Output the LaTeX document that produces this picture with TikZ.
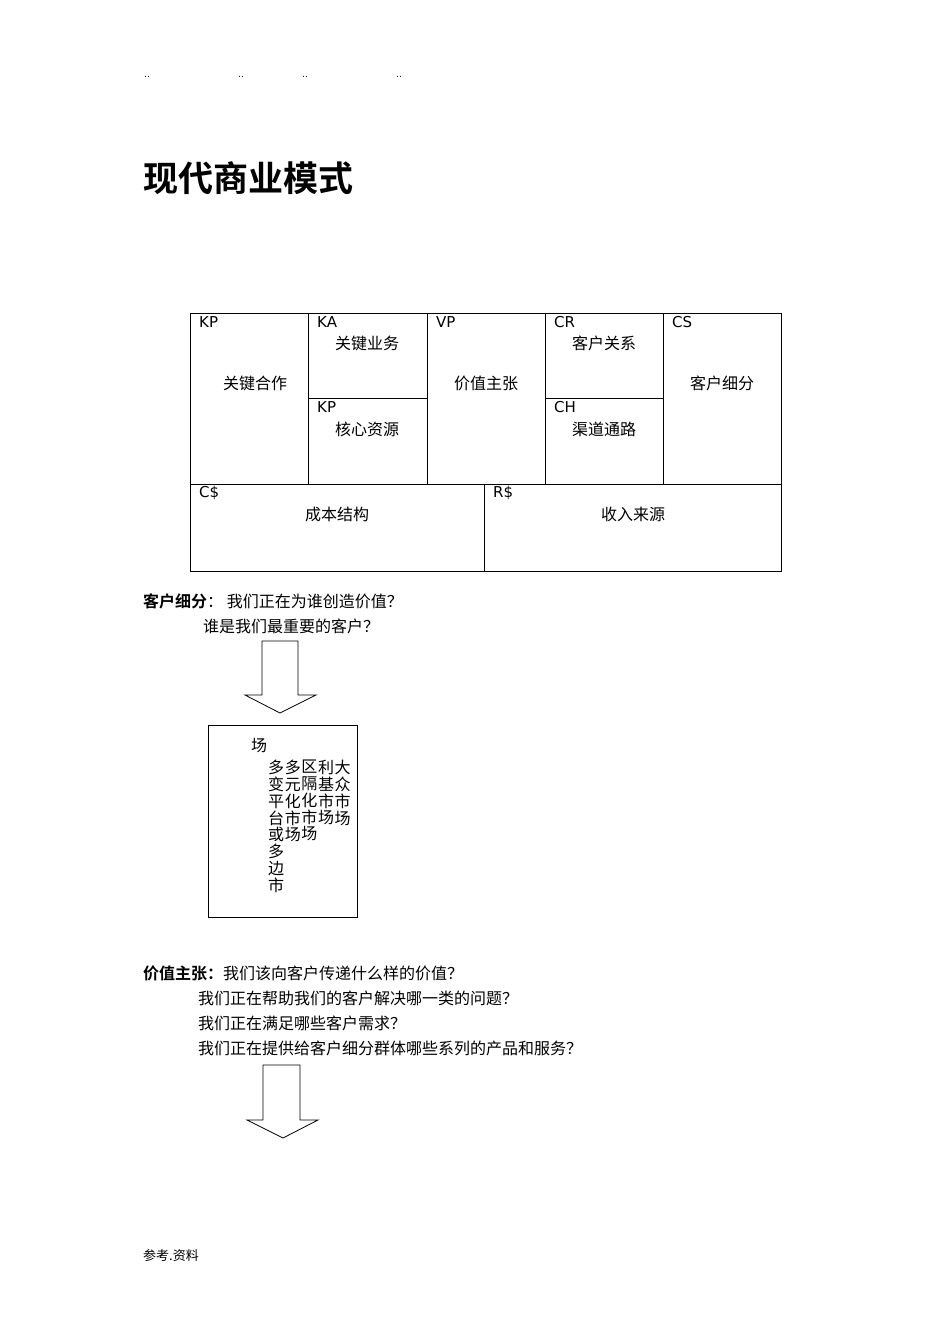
\documentclass[tikz,border=0pt]{standalone}
\usepackage{fontspec}
\setmainfont{DejaVu Sans}
\newfontfamily\cjk{Noto Sans CJK SC}
\newfontfamily\cjkb{Noto Sans CJK SC Bold}
\begin{document}
\begin{tikzpicture}[x=1pt,y=-1pt,
  lab/.style={anchor=north west, inner sep=0pt, font=\fontsize{15}{17}\selectfont},
  txt/.style={inner sep=0pt, font=\cjk\fontsize{16}{18}\selectfont},
  cell/.style={draw, line width=0.8pt}]
\useasboundingbox (0,0) rectangle (950,1344);
% header dots
\foreach \x in {147,241,305,399}
  \node[inner sep=0pt, font=\fontsize{9}{10}\selectfont] at (\x,77) {..};
% title
\node[inner sep=0pt, anchor=west, font=\cjkb\fontsize{35}{38}\selectfont] (title) at (143,178) {现代商业模式};

% canvas
\draw[cell] (190,313) rectangle (781,571);
\draw[cell] (190,484) -- (781,484);
\draw[cell] (308,313) -- (308,484);
\draw[cell] (427,313) -- (427,484);
\draw[cell] (545,313) -- (545,484);
\draw[cell] (663,313) -- (663,484);
\draw[cell] (308,398) -- (427,398);
\draw[cell] (545,398) -- (663,398);
\draw[cell] (484,484) -- (484,571);
\node[lab] at (199,316) {KP};
\node[lab] at (317,316) {KA};
\node[lab] at (436,316) {VP};
\node[lab] at (554,316) {CR};
\node[lab] at (672,316) {CS};
\node[lab] at (317,401) {KP};
\node[lab] at (554,401) {CH};
\node[lab] at (199,486) {C\$};
\node[lab] at (493,486) {R\$};
\node[txt] at (255,383) {关键合作};
\node[txt] at (367,343) {关键业务};
\node[txt] at (367,429) {核心资源};
\node[txt] at (486,383) {价值主张};
\node[txt] at (604,343) {客户关系};
\node[txt] at (604,429) {渠道通路};
\node[txt] at (722,383) {客户细分};
\node[txt] at (337,514) {成本结构};
\node[txt] at (633,514) {收入来源};

% customer segments
\node[txt, anchor=west] (cs) at (143,601) {{\cjkb 客户细分}：\ 我们正在为谁创造价值？};
\node[txt, anchor=west] at (203,626) {谁是我们最重要的客户？};
\draw[line width=0.8pt] (262,641) -- (298,641) -- (298,695) -- (316,695) -- (280,713)
  -- (245,695) -- (262,695) -- cycle;
\draw[line width=0.8pt] (208,725) rectangle (357,917);
\node[txt, anchor=west] at (251,745) {场};
\foreach \s [count=\i] in {多\\变\\平\\台\\或\\多\\边\\市, 多\\元\\化\\市\\场,
    区\\隔\\化\\市\\场, 利\\基\\市\\场, 大\\众\\市\\场}
  \node[txt, anchor=north west, align=left, font=\cjk\fontsize{16}{16.8}\selectfont]
    at (268+16.6*\i-16.6,760) {\s};

% value propositions
\node[txt, anchor=west] (vp) at (143,973) {{\cjkb 价值主张：}我们该向客户传递什么样的价值？};
\node[txt, anchor=west] at (198,998) {我们正在帮助我们的客户解决哪一类的问题？};
\node[txt, anchor=west] at (198,1023) {我们正在满足哪些客户需求？};
\node[txt, anchor=west] at (198,1048) {我们正在提供给客户细分群体哪些系列的产品和服务？};
\draw[line width=0.8pt] (263,1065) -- (300,1065) -- (300,1120) -- (318,1120) -- (283,1138)
  -- (247,1120) -- (263,1120) -- cycle;

% footer
\node[inner sep=0pt, anchor=west, font=\cjk\fontsize{13}{15}\selectfont] at (143,1256) {参考.资料};
\end{tikzpicture}
\end{document}
